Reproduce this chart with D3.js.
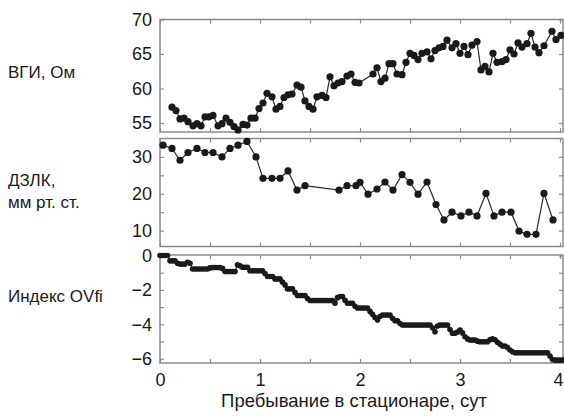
<!DOCTYPE html>
<html>
<head>
<meta charset="utf-8">
<script src="https://cdn.jsdelivr.net/npm/d3@7"></script>
<style>
  body { margin: 0; background: #fff; }
  text { font-family: "Liberation Sans", Arial, sans-serif; fill: #1a1a1a; }
</style>
</head>
<body>
<div id="chart"></div>
<script>
// ВГИ, Ом
const vgiTime = [0.12,0.16,0.20,0.24,0.28,0.33,0.37,0.41,0.45,0.49,0.53,0.58,0.62,0.66,0.70,0.74,0.78,0.83,0.87,0.91,
  0.95,0.99,1.03,1.07,1.12,1.16,1.20,1.24,1.28,1.32,1.37,1.41,1.45,1.49,1.53,1.57,1.62,1.66,1.70,1.74,
  1.78,1.82,1.87,1.91,1.95,1.99,2.13,2.17,2.21,2.25,2.29,2.33,2.37,2.42,2.46,2.50,2.54,2.58,2.62,2.67,
  2.71,2.75,2.79,2.83,2.87,2.92,2.96,3.00,3.04,3.08,3.12,3.17,3.21,3.25,3.29,3.33,3.37,3.42,3.46,3.50,
  3.54,3.58,3.62,3.67,3.71,3.75,3.79,3.84,3.92,3.96,4.01];
const vgiValue = [57.3,56.8,55.6,55.7,55.2,54.6,54.9,54.6,55.9,55.9,56.1,54.6,54.9,55.7,55.1,54.5,54.0,54.8,54.7,55.7,
  55.7,57.1,57.9,59.3,58.8,57.0,57.4,58.7,59.1,59.2,60.5,60.2,58.2,57.4,57.0,58.8,59.0,58.7,61.7,60.4,
  60.8,61.0,61.8,62.1,60.9,60.8,62.1,63.0,61.0,61.5,63.6,63.6,62.1,62.0,63.8,65.1,64.8,64.2,65.1,65.3,
  64.3,65.5,65.9,66.1,67.0,65.9,66.5,65.1,66.1,64.9,66.3,66.8,62.7,63.2,62.4,65.1,63.8,63.9,64.2,65.6,
  65.0,66.6,66.0,66.5,68.0,66.0,65.2,66.2,68.3,67.1,67.7];

// ДЗЛК, мм рт. ст.
const dzlkTime = [0.03,0.12,0.20,0.28,0.37,0.45,0.53,0.62,0.70,0.78,0.87,0.96,1.03,1.12,1.20,1.28,1.37,1.45,
  1.79,1.87,1.96,2.00,2.08,2.17,2.25,2.33,2.42,2.50,2.58,2.67,2.76,2.84,2.92,3.01,3.09,3.17,3.26,3.34,
  3.42,3.51,3.59,3.67,3.76,3.84,3.93];
const dzlkValue = [33.2,32.3,29.1,31.2,32.3,31.2,31.2,30.0,32.3,33.2,34.2,30.0,24.2,24.2,24.2,26.2,21.0,22.2,
  21.0,22.2,22.2,23.1,19.9,21.3,23.2,21.0,25.2,23.1,19.9,23.2,17.1,12.9,15.0,14.0,15.0,14.0,20.1,14.0,
  15.0,15.0,9.9,9.0,9.0,20.1,12.9];

// Индекс OVfi, one reading every 0.025 day from day 0
const ovfiStep = 0.025;
const ovfiValue = [0,0,0,0,-0.31,-0.31,-0.31,-0.45,-0.5,-0.5,
  -0.5,-0.39,-0.45,-0.78,-0.78,-0.78,-0.78,-0.78,-0.78,-0.78,
  -0.72,-0.7,-0.7,-0.7,-0.7,-0.75,-0.93,-0.93,-0.93,-0.93,
  -0.93,-0.54,-0.6,-0.68,-0.68,-0.68,-0.89,-0.89,-0.89,-0.89,
  -0.89,-0.89,-1.05,-1.22,-1.22,-1.22,-1.36,-1.36,-1.36,-1.55,
  -1.71,-1.94,-1.94,-1.94,-2.15,-2.33,-2.33,-2.33,-2.33,-2.5,
  -2.62,-2.62,-2.62,-2.62,-2.62,-2.62,-2.62,-2.62,-2.62,-2.62,
  -2.77,-2.45,-2.39,-2.39,-2.6,-2.78,-2.78,-2.78,-2.95,-3.05,
  -3.05,-3.05,-3.05,-3.05,-3.25,-3.42,-3.6,-3.75,-3.55,-3.46,
  -3.46,-3.46,-3.46,-3.65,-3.79,-3.79,-3.95,-4.04,-4.04,-4.04,
  -4.04,-4.04,-4.04,-4.04,-4.04,-4.04,-4.04,-4.04,-4.04,-4.2,
  -4.43,-4.1,-4.04,-4.04,-4.04,-4.04,-4.3,-4.52,-4.52,-4.45,
  -4.33,-4.5,-4.72,-4.85,-4.91,-4.91,-4.91,-4.98,-5.01,-5.01,
  -5.01,-5.01,-4.9,-4.85,-4.9,-5.05,-5.15,-5.26,-5.26,-5.35,
  -5.49,-5.6,-5.65,-5.65,-5.65,-5.65,-5.65,-5.65,-5.65,-5.65,
  -5.65,-5.65,-5.65,-5.65,-5.65,-5.65,-5.85,-6.05,-6.08,-6.08,
  -6.08,-6.08];

const xTicks = [0,0.5,1,1.5,2,2.5,3,3.5,4];
const xTickLabels = [0,1,2,3,4];
const vgiTicks = [55,60,65,70];
const dzlkTicks = [10,15,20,25,30];
const dzlkTickLabels = [10,20,30];
const ovfiTicks = [0,-1,-2,-3,-4,-5,-6];
const ovfiTickLabels = [0,-2,-4,-6];
const xTitle = "Пребывание в стационаре, сут";

const svgWidth = 564, svgHeight = 416;
const left = 160, right = 563;

const svg = d3.select("#chart").append("svg")
    .attr("width", svgWidth)
    .attr("height", svgHeight);

const x = d3.scaleLinear().domain([0, 4.03]).range([left, right]);

const fmt = d => String(d).replace("-", "\u2212");

const panels = [
    { time: vgiTime, value: vgiValue, top: 19.5, bottom: 132, domain: [53.7, 70],
      ticks: vgiTicks, labels: vgiTicks, r: 3.6, lines: [{ t: "ВГИ, Ом", y: 78 }] },
    { time: dzlkTime, value: dzlkValue, top: 138.5, bottom: 246.5, domain: [5.7, 35],
      ticks: dzlkTicks, labels: dzlkTickLabels, r: 3.6,
      lines: [{ t: "ДЗЛК,", y: 186 }, { t: "мм рт. ст.", y: 208 }] },
    { time: ovfiValue.map((d, i) => i * ovfiStep), value: ovfiValue, top: 255, bottom: 363,
      domain: [-6.25, 0.03], ticks: ovfiTicks, labels: ovfiTickLabels, r: 2.8,
      lines: [{ t: "Индекс OVfi", y: 302 }] }
];

panels.forEach(function (p, pi) {
    const y = d3.scaleLinear().domain(p.domain).range([p.bottom, p.top]);
    const g = svg.append("g");

    g.append("rect")
        .attr("x", left).attr("y", p.top)
        .attr("width", right - left).attr("height", p.bottom - p.top)
        .attr("fill", "none").attr("stroke", "#8c8c8c").attr("stroke-width", 1.5);

    const yLeft = d3.axisLeft(y).tickValues(p.ticks).tickSize(-4).tickPadding(8)
        .tickFormat(d => p.labels.includes(d) ? fmt(d) : "");
    const yRight = d3.axisRight(y).tickValues(p.ticks).tickSize(-4).tickFormat("");
    const xTop = d3.axisTop(x).tickValues(xTicks).tickSize(-4).tickFormat("");
    const xBottom = d3.axisBottom(x).tickValues(xTicks).tickSize(-4).tickPadding(10)
        .tickFormat(d => pi === 2 && xTickLabels.includes(d) ? fmt(d) : "");

    [[yLeft, "translate(" + left + ",0)"], [yRight, "translate(" + right + ",0)"],
     [xTop, "translate(0," + p.top + ")"], [xBottom, "translate(0," + p.bottom + ")"]]
        .forEach(function (a) {
            const ax = g.append("g").attr("transform", a[1]).call(a[0]);
            ax.select(".domain").remove();
            ax.selectAll("line").attr("stroke", "#8c8c8c").attr("stroke-width", 1.2);
            ax.selectAll("text").attr("font-size", 18).attr("fill", "#1a1a1a")
                .style("font-family", "'Liberation Sans', Arial, sans-serif");
        });

    // keep the last day label inside the window
    if (pi === 2) {
        g.selectAll(".tick text").filter(d => d === 4).attr("dx", -2);
    }

    const pts = p.time.map((t, i) => [t, p.value[i]]);

    g.append("path")
        .datum(pts)
        .attr("fill", "none")
        .attr("stroke", "#2a2a2a")
        .attr("stroke-width", 1.2)
        .attr("d", d3.line().x(d => x(d[0])).y(d => y(d[1])));

    g.selectAll("circle")
        .data(pts)
        .enter().append("circle")
        .attr("cx", d => x(d[0]))
        .attr("cy", d => y(d[1]))
        .attr("r", p.r)
        .attr("fill", "#1a1a1a");

    p.lines.forEach(function (l) {
        svg.append("text")
            .attr("x", 8)
            .attr("y", l.y)
            .attr("font-size", 17)
            .text(l.t);
    });
});

svg.append("text")
    .attr("x", 354)
    .attr("y", 407)
    .attr("text-anchor", "middle")
    .attr("font-size", 18.5)
    .text(xTitle);
</script>
</body>
</html>
